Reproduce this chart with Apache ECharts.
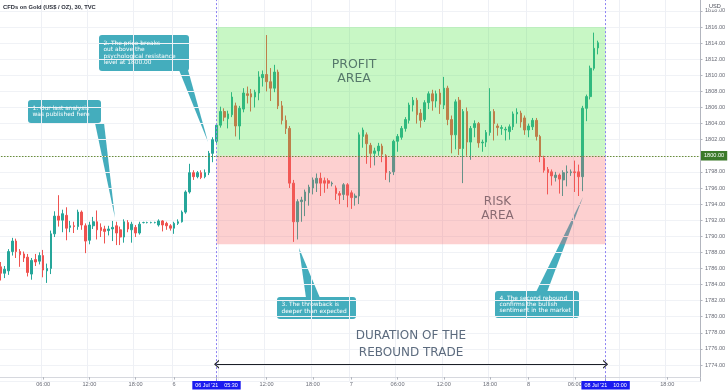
<!DOCTYPE html>
<html><head><meta charset="utf-8">
<script src="https://cdn.jsdelivr.net/npm/echarts@6/dist/echarts.min.js"></script>
<style>html,body{margin:0;padding:0;background:#fff}#c{width:728px;height:391px}</style>
</head><body><div id="c"></div>
<script>
// ---- categories: 30-minute bars, 05-08 Jul 2021 (23h sessions) ----
const dayNames = ['05', '06', '07', '08'];
const barsPerDay = 46;
const categories = [];
for (let i = 0; i < 183; i++) {
  const d = Math.floor(i / barsPerDay), k = i % barsPerDay;
  const hh = String(Math.floor(k / 2)).padStart(2, '0'), mm = k % 2 ? '30' : '00';
  categories.push(dayNames[d] + " Jul '21 " + hh + ':' + mm);
}
const tickTimes = ['00:00', '06:00', '12:00', '18:00'];
const tradeStart = "06 Jul '21 05:30";
const tradeEnd = "08 Jul '21 10:00";
const markedBars = [tradeStart, tradeEnd];

// ---- price levels ----
const resistance = 1800.00;
const lastPrice = 1814.04;
const profitTop = 1816;
const riskBottom = 1789;
const arrowLevel = 1774.1;
const yTicks = {min: 1772, max: 1820, step: 2};

// ---- OHLC, one row per bar: [open, close, low, high] ----
const ohlc = [
  [1786.6,1786.2,1785.8,1787.0],[1786.2,1785.4,1784.5,1786.8],[1785.4,1785.9,1784.8,1786.3],[1785.7,1788.1,1785.2,1788.4],
  [1788.1,1789.4,1787.6,1789.8],[1789.4,1788.1,1787.3,1789.7],[1788.1,1787.7,1786.2,1788.4],[1787.8,1787.3,1786.8,1788.1],
  [1787.4,1785.5,1785.0,1787.8],[1785.3,1787.0,1784.6,1787.3],[1787.1,1786.8,1786.3,1787.8],[1786.9,1787.6,1786.5,1788.0],
  [1787.6,1785.8,1784.9,1788.3],[1785.7,1786.0,1784.2,1786.6],[1786.0,1790.3,1785.3,1790.7],[1790.3,1792.5,1789.9,1793.1],
  [1792.5,1792.0,1791.2,1795.1],[1792.0,1792.8,1790.5,1793.3],[1792.6,1791.0,1789.5,1793.6],[1791.1,1791.3,1790.5,1791.9],
  [1791.3,1791.2,1790.4,1791.8],[1791.2,1793.0,1790.8,1793.3],[1793.0,1791.4,1790.8,1793.2],[1791.3,1789.4,1787.9,1791.6],
  [1789.5,1791.4,1789.0,1791.8],[1791.3,1791.8,1790.9,1792.4],[1791.8,1790.8,1789.6,1793.2],[1791.1,1790.7,1789.9,1791.6],
  [1790.9,1790.6,1789.1,1791.3],[1790.7,1790.9,1790.1,1791.3],[1790.9,1791.1,1789.4,1791.9],[1791.3,1790.4,1788.9,1791.8],
  [1790.8,1789.9,1788.9,1791.2],[1789.9,1791.8,1789.2,1792.1],[1791.7,1790.9,1790.5,1792.0],[1790.8,1791.5,1789.2,1791.8],
  [1791.1,1790.4,1789.9,1791.4],[1790.4,1791.5,1790.2,1791.8],[1791.7,1791.7,1791.6,1791.8],[1791.7,1791.7,1791.6,1791.8],
  [1791.7,1791.7,1791.6,1791.8],[1791.7,1791.7,1791.6,1791.8],[1791.4,1791.9,1791.2,1792.1],[1791.9,1791.4,1790.6,1792.0],
  [1791.6,1791.3,1790.8,1791.8],[1791.3,1791.0,1790.7,1791.5],[1791.0,1791.6,1790.3,1791.8],[1791.6,1791.8,1791.4,1792.1],
  [1791.8,1793.0,1791.7,1793.2],[1793.0,1795.5,1792.8,1795.7],[1795.5,1797.9,1795.3,1799.0],[1797.9,1797.4,1797.0,1798.2],
  [1797.4,1797.9,1797.2,1798.1],[1797.9,1797.3,1797.1,1798.2],[1797.4,1797.9,1797.2,1798.3],[1797.9,1800.3,1797.6,1800.6],
  [1800.3,1802.0,1799.2,1802.3],[1801.8,1803.8,1801.4,1804.0],[1803.8,1805.5,1803.5,1806.1],[1805.5,1804.8,1804.3,1805.9],
  [1804.6,1805.2,1803.4,1805.6],[1805.1,1807.3,1804.8,1807.9],[1806.2,1803.7,1802.4,1806.6],[1803.7,1805.9,1802.0,1806.2],
  [1805.8,1807.8,1805.4,1808.4],[1807.7,1807.5,1806.5,1808.6],[1807.7,1807.3,1805.5,1808.3],[1807.3,1807.9,1806.0,1808.2],
  [1807.8,1809.8,1806.9,1810.5],[1809.7,1810.1,1808.6,1810.6],[1810.1,1809.2,1808.0,1815.0],[1809.2,1808.4,1806.8,1810.9],
  [1808.4,1810.4,1807.9,1811.3],[1810.4,1806.2,1805.8,1810.7],[1806.2,1804.4,1803.9,1806.8],[1804.4,1803.4,1802.7,1805.0],
  [1803.4,1796.6,1796.0,1803.7],[1796.6,1791.8,1789.3,1797.0],[1791.8,1794.3,1789.6,1794.6],[1794.3,1794.5,1791.8,1794.9],
  [1794.4,1795.5,1792.5,1795.8],[1795.4,1796.1,1793.8,1796.4],[1796.0,1797.0,1795.2,1797.3],[1796.6,1797.2,1795.5,1797.8],
  [1797.2,1796.6,1795.0,1797.9],[1796.9,1796.6,1795.4,1797.3],[1796.9,1796.6,1795.9,1797.2],[1796.5,1796.6,1796.2,1796.8],
  [1796.0,1795.3,1794.5,1796.3],[1795.3,1795.1,1794.0,1795.6],[1795.2,1796.4,1794.5,1796.6],[1796.4,1795.1,1793.6,1796.6],
  [1795.4,1794.8,1793.4,1795.7],[1794.8,1795.0,1793.8,1795.3],[1795.0,1802.6,1794.0,1802.9],[1802.4,1803.2,1801.0,1803.5],
  [1802.6,1801.5,1799.0,1802.9],[1801.3,1800.3,1798.5,1801.6],[1800.3,1800.6,1798.8,1801.0],[1800.6,1801.2,1800.0,1801.6],
  [1801.2,1800.2,1799.2,1801.5],[1800.0,1797.9,1797.0,1800.2],[1797.8,1797.9,1796.7,1798.1],[1798.0,1801.8,1797.6,1802.0],
  [1801.8,1802.4,1800.5,1802.7],[1802.3,1803.4,1802.0,1803.7],[1803.4,1804.5,1803.0,1804.8],[1804.4,1806.3,1804.0,1806.6],
  [1806.3,1806.9,1805.5,1807.3],[1806.9,1805.1,1804.0,1807.2],[1805.3,1804.4,1803.5,1805.8],[1804.5,1806.6,1804.2,1806.9],
  [1806.6,1807.7,1805.8,1808.0],[1807.7,1806.8,1805.6,1808.2],[1806.8,1807.7,1806.0,1808.1],[1807.8,1806.4,1805.2,1808.3],
  [1806.3,1808.4,1805.8,1809.8],[1808.4,1804.5,1803.8,1808.7],[1804.5,1802.6,1800.3,1805.0],[1802.6,1806.7,1800.8,1807.0],
  [1806.9,1800.9,1800.1,1807.3],[1800.9,1805.5,1796.6,1805.8],[1805.5,1801.7,1800.0,1806.0],[1801.7,1803.4,1799.5,1803.7],
  [1803.5,1804.0,1802.3,1804.4],[1804.0,1801.6,1801.0,1804.2],[1801.6,1801.7,1800.5,1802.0],[1801.7,1802.9,1801.1,1803.2],
  [1802.9,1805.5,1802.5,1808.4],[1805.5,1804.0,1801.9,1805.8],[1803.7,1803.5,1802.5,1804.0],[1803.4,1803.5,1802.6,1803.8],
  [1803.2,1803.3,1801.9,1803.6],[1803.0,1803.6,1802.0,1803.9],[1803.6,1805.2,1803.2,1805.5],[1805.2,1805.4,1804.0,1805.9],
  [1805.3,1804.2,1803.5,1805.6],[1804.7,1803.2,1802.6,1805.0],[1803.2,1803.7,1802.3,1804.0],[1803.6,1804.4,1803.2,1804.7],
  [1804.4,1802.4,1801.9,1804.7],[1802.4,1799.9,1799.2,1802.6],[1799.7,1798.2,1797.9,1800.0],[1798.3,1797.9,1795.2,1798.6],
  [1798.0,1797.5,1796.3,1798.3],[1797.3,1797.6,1796.8,1798.0],[1797.6,1797.1,1795.3,1797.8],[1797.0,1797.9,1795.0,1798.2],
  [1797.9,1798.0,1796.2,1798.8],[1797.9,1798.0,1797.5,1798.3],[1798.0,1797.9,1795.5,1799.4],[1798.0,1797.4,1795.0,1798.9],
  [1797.4,1805.9,1795.6,1806.2],[1805.9,1807.35,1804.3,1807.6],[1807.35,1810.87,1807.0,1811.2],[1810.87,1813.35,1810.6,1815.3],
  [1813.4,1814.04,1812.6,1814.3]
];

// ---- annotation texts ----
const titleText = 'CFDs on Gold (US$ / OZ), 30, TVC';
const notes = [
  '1. Our last analysis\nwas published here',
  '2. The price breaks\nout above the\npsychological resistance\nlevel at 1800.00',
  '3. The throwback is\ndeeper than expected',
  '4. The second rebound\nconfirms the bullish\nsentiment in the market'
];
const zoneTexts = ['PROFIT\nAREA', 'RISK\nAREA'];
const durationText = 'DURATION OF THE\nREBOUND TRADE';

// ---- helpers ----
const markedIdx = markedBars.map(b => categories.indexOf(b));
const isTick = v => tickTimes.includes(v.slice(-5));
const nearMarked = i => markedIdx.some(m => Math.abs(m - i) <= 6 && m !== i);
const labelShown = (i, v) => markedBars.includes(v) || (isTick(v) && !nearMarked(i));

const CALLOUT = '#44adbd';
function callout(text, box, base, tip) {
  return {
    type: 'group', z: 100,
    children: [
      {type: 'polygon', shape: {points: [base[0], base[1], tip]}, style: {fill: CALLOUT}},
      {type: 'rect', shape: {x: box[0], y: box[1], width: box[2], height: box[3], r: 3}, style: {fill: CALLOUT}},
      {type: 'text', x: box[0] + 4.5, y: box[1] + box[3] / 2,
       style: {text: text, fill: '#ffffff', fontSize: 5.9, fontFamily: 'DejaVu Sans', lineHeight: 6.4, align: 'left', verticalAlign: 'middle'}}
    ]
  };
}
const chevron = 'path://M0,10 L5,0 L10,10 L8.4,10 L5,3.2 L1.6,10 Z';

const chart = echarts.init(document.getElementById('c'), null, {renderer: 'canvas'});
chart.setOption({
  animation: false,
  backgroundColor: '#ffffff',
  title: {text: titleText, left: 3, top: 4, padding: 0,
    textStyle: {fontSize: 5.8, fontWeight: 'bold', color: '#2a2e39', fontFamily: 'Liberation Sans'}},
  grid: {left: -5, right: 28, top: -5.19, bottom: 9.9, containLabel: false, outerBoundsMode: 'none'},
  xAxis: {
    type: 'category', data: categories, boundaryGap: true, offset: -4,
    axisLine: {lineStyle: {color: '#d6d8de', width: 1}},
    axisTick: {show: true, alignWithLabel: true, length: 2.5, interval: labelShown, lineStyle: {color: '#b2b5be'}},
    axisLabel: {
      interval: labelShown, fontSize: 5.6, color: '#6a6d78', margin: 4, fontFamily: 'Liberation Sans',
      formatter: v => {
        if (markedBars.includes(v)) return '{hl|' + v.replace(" '21 ", " '21    ") + '}';
        const t = v.slice(-5);
        return t === '00:00' ? String(parseInt(v.slice(0, 2), 10)) : t;
      },
      rich: {hl: {backgroundColor: '#1b1bf0', color: '#ffffff', fontSize: 5.4, padding: [2, 3, 1.5, 3], fontFamily: 'Liberation Sans'}}
    },
    splitLine: {show: true, interval: (i, v) => isTick(v), lineStyle: {color: '#eef0f5', width: 1}}
  },
  yAxis: {
    type: 'value', position: 'right', min: yTicks.min, max: yTicks.max, interval: yTicks.step,
    axisLine: {show: true, lineStyle: {color: '#b2b5be'}},
    axisTick: {show: true, length: 2.5, lineStyle: {color: '#b2b5be'}},
    axisLabel: {fontSize: 5.6, color: '#6a6d78', margin: 5, fontFamily: 'Liberation Sans',
      showMinLabel: false, showMaxLabel: false, formatter: v => v.toFixed(2)},
    splitLine: {show: true, lineStyle: {color: '#f0f2f6', width: 1}}
  },
  series: [
    {
      type: 'candlestick', name: 'XAUUSD', data: ohlc, z: 2, barWidth: 2.1,
      itemStyle: {color: '#26a69a', color0: '#ef5350', borderColor: '#26a69a', borderColor0: '#ef5350', borderWidth: 1}
    },
    {
      type: 'line', name: 'zones', data: [], z: 3, showSymbol: false,
      markArea: {
        silent: true, z: 3,
        data: [
          [{xAxis: tradeStart, yAxis: profitTop, itemStyle: {color: 'rgba(72,228,62,0.3)'}}, {xAxis: tradeEnd, yAxis: resistance}],
          [{xAxis: tradeStart, yAxis: resistance, itemStyle: {color: 'rgba(248,98,98,0.3)'}}, {xAxis: tradeEnd, yAxis: riskBottom}]
        ]
      },
      markLine: {
        silent: true, symbol: 'none', z: 6, animation: false,
        data: [
          {yAxis: resistance, lineStyle: {color: '#6b8f3a', type: [1.5, 1.5], width: 1},
            label: {show: true, position: 'end', distance: 1, formatter: resistance.toFixed(2), color: '#ffffff',
              backgroundColor: '#3b7a2a', padding: [2, 3, 1.5, 3], fontSize: 5.6, fontFamily: 'Liberation Sans'}},
          {yAxis: lastPrice, lineStyle: {opacity: 0},
            label: {show: true, position: 'end', distance: 1, formatter: lastPrice.toFixed(2), color: '#ffffff',
              backgroundColor: '#26a69a', padding: [2, 3, 1.5, 3], fontSize: 5.6, fontFamily: 'Liberation Sans'}},
          {xAxis: tradeStart, lineStyle: {color: '#8d83f2', type: [2, 2], width: 1}, label: {show: false}},
          {xAxis: tradeEnd, lineStyle: {color: '#8d83f2', type: [2, 2], width: 1}, label: {show: false}},
          [
            {coord: [tradeStart, arrowLevel], symbol: chevron, symbolSize: [9, 5], lineStyle: {color: '#1c1f26', width: 1, type: 'solid'}, label: {show: false}},
            {coord: [tradeEnd, arrowLevel], symbol: chevron, symbolSize: [9, 5]}
          ]
        ]
      }
    }
  ],
  graphic: [
    {type: 'text', x: 709, y: 3.5, z: 100, style: {text: 'USD', fill: '#4a4d57', fontSize: 5.6, fontFamily: 'Liberation Sans', backgroundColor: '#fff'}},
    {type: 'text', x: 354, y: 57, z: 50, style: {text: zoneTexts[0], fill: '#56786b', fontSize: 12.5, fontFamily: 'DejaVu Sans', lineHeight: 14.5, align: 'center', verticalAlign: 'top'}},
    {type: 'text', x: 497.5, y: 195.5, z: 50, style: {text: zoneTexts[1], fill: '#896b72', fontSize: 12, fontFamily: 'DejaVu Sans', lineHeight: 13.5, align: 'center', verticalAlign: 'top'}},
    {type: 'text', x: 411, y: 327.5, z: 50, style: {text: durationText, fill: '#5c6b7e', fontSize: 12, fontFamily: 'DejaVu Sans', lineHeight: 17, align: 'center', verticalAlign: 'top'}},
    callout(notes[0], [28, 100, 73, 23], [[95, 123], [104, 123]], [115, 218]),
    callout(notes[1], [99, 35, 90, 36], [[179, 70], [188, 70]], [208, 142]),
    callout(notes[2], [277, 297, 79, 22], [[306, 298], [320, 298]], [299, 248]),
    callout(notes[3], [495, 291, 84, 27], [[536, 292], [547, 292]], [583, 197])
  ]
});
</script></body></html>
